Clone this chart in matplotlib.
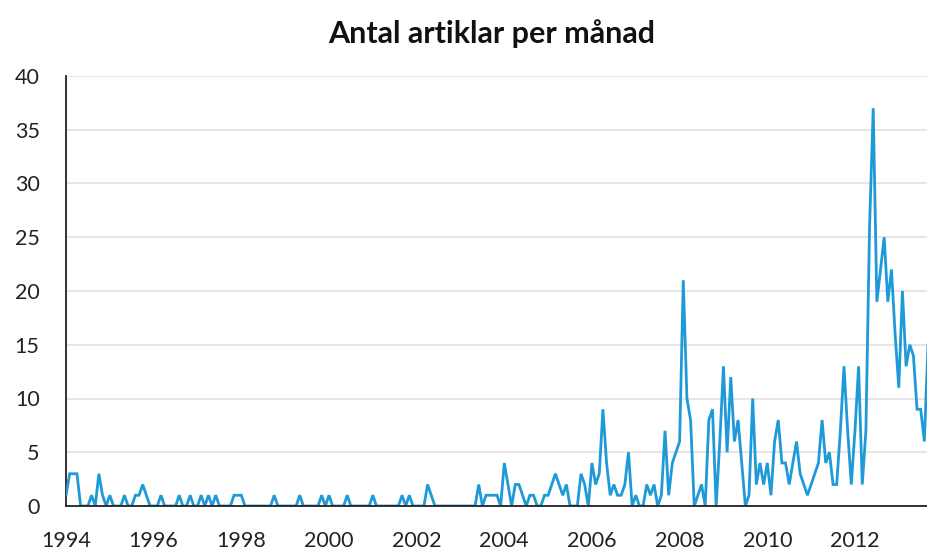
import numpy as np
import matplotlib
matplotlib.use("Agg")
import matplotlib.pyplot as plt

# monthly article counts, Jan 1994 .. Sep 2013
y1994 = [1, 3, 3, 3, 0, 0, 0, 1, 0, 3, 1, 0]
y1995 = [1, 0, 0, 0, 1, 0, 0, 1, 1, 2, 1, 0]
y1996 = [0, 0, 1, 0, 0, 0, 0, 1, 0, 0, 1, 0]
y1997 = [0, 1, 0, 1, 0, 1, 0, 0, 0, 0, 1, 1]
y1998 = [1, 0, 0, 0, 0, 0, 0, 0, 0, 1, 0, 0]
y1999 = [0, 0, 0, 0, 1, 0, 0, 0, 0, 0, 1, 0]
y2000 = [1, 0, 0, 0, 0, 1, 0, 0, 0, 0, 0, 0]
y2001 = [1, 0, 0, 0, 0, 0, 0, 0, 1, 0, 1, 0]
y2002 = [0, 0, 0, 2, 1, 0, 0, 0, 0, 0, 0, 0]
y2003 = [0, 0, 0, 0, 0, 2, 0, 1, 1, 1, 1, 0]
y2004 = [4, 2, 0, 2, 2, 1, 0, 1, 1, 0, 0, 1]
y2005 = [1, 2, 3, 2, 1, 2, 0, 0, 0, 3, 2, 0]
y2006 = [4, 2, 3, 9, 4, 1, 2, 1, 1, 2, 5, 0]
y2007 = [1, 0, 0, 2, 1, 2, 0, 1, 7, 1, 4, 5]
y2008 = [6, 21, 10, 8, 0, 1, 2, 0, 8, 9, 0, 6]
y2009 = [13, 5, 12, 6, 8, 4, 0, 1, 10, 2, 4, 2]
y2010 = [4, 1, 6, 8, 4, 4, 2, 4, 6, 3, 2, 1]
y2011 = [2, 3, 4, 8, 4, 5, 2, 2, 7, 13, 7, 2]
y2012 = [7, 13, 2, 7, 26, 37, 19, 22, 25, 19, 22, 16]
y2013 = [11, 20, 13, 15, 14, 9, 9, 6, 15]

counts = (y1994 + y1995 + y1996 + y1997 + y1998 + y1999 + y2000 + y2001 + y2002
          + y2003 + y2004 + y2005 + y2006 + y2007 + y2008 + y2009 + y2010 + y2011
          + y2012 + y2013)
year_labels = ['1994', '1996', '1998', '2000', '2002', '2004', '2006', '2008', '2010', '2012']

plt.rcParams['font.family'] = ['Lato', 'DejaVu Sans']

fig = plt.figure(figsize=(9.28, 5.52), dpi=100)
ax = fig.add_axes([66 / 928, 46 / 552, 862 / 928, 430 / 552])

months = np.arange(len(counts))
ax.plot(months, counts, color='#1f9ad8', lw=2.0, solid_joinstyle='miter', zorder=3)

ax.set_xlim(0, 236)
ax.set_ylim(0, 40)
ax.set_yticks(np.arange(0, 41, 5))
ax.set_xticks(np.arange(0, 24 * len(year_labels), 24))
ax.set_xticklabels(year_labels)
ax.yaxis.grid(True, color='#e4e4e4', lw=1.3)
ax.set_axisbelow(True)

for s in ['top', 'right']:
    ax.spines[s].set_visible(False)
for s in ['left', 'bottom']:
    ax.spines[s].set_color('#222222')
    ax.spines[s].set_linewidth(1.3)
ax.spines['bottom'].set_zorder(4)

ax.tick_params(axis='y', length=0, pad=19, labelsize=15.5, labelcolor='#222222')
ax.tick_params(axis='x', length=0, pad=18, labelsize=15.5, labelcolor='#222222')

fig.text(492 / 928, 1 - 34 / 552, 'Antal artiklar per månad', ha='center', va='center',
         fontsize=22, fontweight='bold', color='#111111')

fig.savefig('out.png', dpi=100)
